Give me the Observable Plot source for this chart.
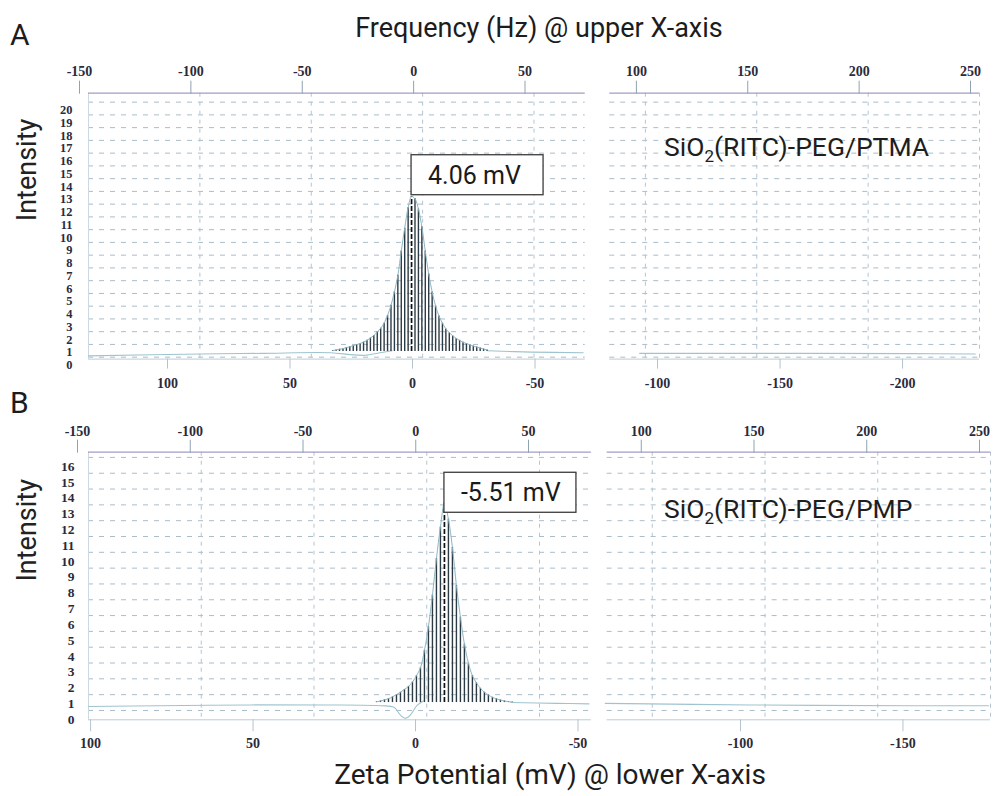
<!DOCTYPE html>
<html>
<head>
<meta charset="utf-8">
<script src="https://cdn.jsdelivr.net/npm/d3@7"></script>
<script src="https://cdn.jsdelivr.net/npm/@observablehq/plot@0.6"></script>
<style>
  body { margin: 0; background: #fff; }
  #page { position: relative; width: 993px; height: 796px; overflow: hidden; font-family: Roboto, "Noto Sans", sans-serif; color: #1c1c1c; }
  .txt { position: absolute; white-space: nowrap; line-height: 1; }
  .title { text-align: center; width: 600px; }
  .letter { font-size: 30px; }
  .panel { position: absolute; left: 0; }
  #page svg g[aria-label="x-axis tick label"] text { font-size: 14px !important; font-weight: bold; font-family: 'Liberation Serif', 'Times New Roman', serif; }
  #page svg g[aria-label="y-axis tick label"] text { font-weight: bold; font-family: 'Liberation Serif', 'Times New Roman', serif; }
  #panelA svg g[aria-label="y-axis tick label"] text { font-size: 12.4px !important; }
  #panelB svg g[aria-label="y-axis tick label"] text { font-size: 13.5px !important; }
</style>
</head>
<body>
<div id="page">
  <div class="txt title" style="left:239px; top:15px; font-size:27px;">Frequency (Hz) @ upper X-axis</div>
  <div class="txt letter" style="left:10px; top:20px;">A</div>
  <div class="txt letter" style="left:10px; top:388px;">B</div>
  <div class="panel" id="panelA" style="top:48px;"></div>
  <div class="panel" id="panelB" style="top:410px;"></div>
  <div class="txt title" style="left:250px; top:761px; font-size:28px;">Zeta Potential (mV) @ lower X-axis</div>
</div>
<script>
// ---------- tick labels ----------
const freqTicks = [-150, -100, -50, 0, 50, 100, 150, 200, 250];          // Hz, upper axis
const zetaTicksA = [100, 50, 0, -50, -100, -150, -200];                  // mV, lower axis A
const zetaTicksB = [100, 50, 0, -50, -100, -150];                        // mV, lower axis B
const intensityTicksA = [0,1,2,3,4,5,6,7,8,9,10,11,12,13,14,15,16,17,18,19,20];
const intensityTicksB = [0,1,2,3,4,5,6,7,8,9,10,11,12,13,14,15,16];

// ---------- panel A: SiO2(RITC)-PEG/PTMA ----------
const zetaA = [36.26, 34.86, 33.46, 32.06, 30.66, 29.26, 27.86, 26.46, 25.06, 23.66, 22.26, 20.86, 19.46,
  18.06, 16.66, 15.26, 13.86, 12.46, 11.06, 9.66, 8.26, 6.86, 5.46, 4.06, 2.66, 1.26, -0.14, -1.54, -2.94,
  -4.34, -5.74, -7.14, -8.54, -9.94, -11.34, -12.74, -14.14, -15.54, -16.94, -18.34, -19.74, -21.14,
  -22.54, -23.94, -25.34, -26.74];
const intensityA = [0.52, 0.57, 0.62, 0.67, 0.75, 0.82, 0.9, 0.99, 1.07, 1.18, 1.32, 1.5, 1.7,
  1.97, 2.27, 2.67, 3.27, 4.07, 5.12, 6.42, 8.32, 10.12, 11.72, 12.6, 12.42, 11.62, 10.22, 8.32, 6.52,
  5.12, 4.02, 3.22, 2.67, 2.22, 1.92, 1.67, 1.47, 1.32, 1.17, 1.07, 0.97, 0.87,
  0.79, 0.72, 0.64, 0.57];
const baseA = 0.45;
const traceA1Zeta = [135.9, 90, 65, 37, 29, 23, 17, 12];
const traceA1Int  = [0.1, 0.25, 0.3, 0.35, 0.2, 0.15, 0.35, 0.5];
const traceA2Zeta = [-27, -45, -66];
const traceA2Int  = [0.5, 0.4, 0.35];
const traceA3Zeta = [-89, -150, -200, -226];
const traceA3Int  = [0.3, 0.3, 0.28, 0.25];
const sampleA = ["SiO", "2", "(RITC)-PEG/PTMA"];
const peakA = {zeta: 4.06, intensity: 12.7, label: "4.06 mV"};
const calibA = {hzAtZero: -0.5, hzPerMv: -1.1};     // lower axis read against upper axis
const segmentsA = [[-150, 73], [84, 250]];            // the two printout halves (Hz)

// ---------- panel B: SiO2(RITC)-PEG/PMP ----------
const zetaB = [15.40, 14.17, 12.94, 11.71, 10.48, 9.25, 8.02, 6.79, 5.56, 4.33, 3.10, 1.87, 0.64,
  -0.59, -1.82, -3.05, -4.28, -5.51, -6.74, -7.97, -9.20, -10.43, -11.66, -12.89, -14.12, -15.35,
  -16.58, -17.81, -19.04, -20.27, -21.50, -22.73, -23.96, -25.19, -26.42];
const intensityB = [0.55, 0.6, 0.67, 0.74, 0.86, 1.0, 1.15, 1.33, 1.52, 1.8, 2.2, 2.7, 3.8,
  5.3, 7.3, 9.6, 11.6, 13.1, 12.1, 10.3, 7.9, 5.9, 4.2, 3.0, 2.2, 1.75,
  1.4, 1.15, 0.98, 0.83, 0.74, 0.66, 0.6, 0.56, 0.53];
const baseB = 0.5;
const traceB1Zeta = [104, 82, 54, 30, 14, 10, 8, 6.5, 5, 3, 1];
const traceB1Int  = [0.25, 0.3, 0.35, 0.35, 0.3, 0.2, -0.3, -0.5, -0.3, 0.3, 0.6];
const traceB2Zeta = [-26, -40, -50];
const traceB2Int  = [0.5, 0.45, 0.42];
const traceB3Zeta = [-55, -100, -150, -173];
const traceB3Int  = [0.45, 0.35, 0.3, 0.3];
const sampleB = ["SiO", "2", "(RITC)-PEG/PMP"];
const peakB = {zeta: -5.51, intensity: 12.5, label: "-5.51 mV"};
const calibB = {hzAtZero: -0.1, hzPerMv: -1.441};
const segmentsB = [[-150, 73], [80, 250]];

const SERIF = "'Liberation Serif', 'Times New Roman', serif";

function drawPanel(p) {
  const toHz = z => p.calib.hzAtZero + p.calib.hzPerMv * z;
  const toZeta = h => (h - p.calib.hzAtZero) / p.calib.hzPerMv;
  const bars = p.zeta.map((z, i) => ({hz: toHz(z), v: p.intensity[i], peak: z === p.peak.zeta}));
  const gridRows = p.intensityTicks.flatMap(v => p.segments.map(([a, b]) => ({v, a, b})));
  const segs = p.segments.map(([a, b]) => ({a, b}));
  const [yMin, yMax] = p.yDomain;
  const traces = p.traces.map(([zs, vs]) => zs.map((z, i) => ({hz: toHz(z), v: vs[i]})));

  const sampleMark = (index, scales, values, dims) => {
    const t = d3.create("svg:text")
      .attr("x", dims.marginLeft + 576)
      .attr("y", dims.marginTop + p.sampleDy)
      .attr("text-anchor", "start")
      .attr("font-family", "Roboto, sans-serif")
      .attr("font-size", 26.5)
      .attr("fill", "#1e1e1e");
    t.append("tspan").text(p.sample[0]);
    t.append("tspan").attr("font-size", 17).attr("dy", 6).text(p.sample[1]);
    t.append("tspan").attr("dy", -6).text(p.sample[2]);
    return t.node();
  };

  const calloutMark = (index, scales) => {
    const g = d3.create("svg:g");
    const x0 = scales.x(toHz(p.peak.zeta));
    const y0 = scales.y(p.peak.intensity);
    g.append("rect").attr("x", x0).attr("y", y0 - 40).attr("width", 132).attr("height", 40)
      .attr("fill", "#fff").attr("stroke", "#3c3c3c").attr("stroke-width", 1.3);
    g.append("text").attr("x", x0 + 17).attr("y", y0 - 11).attr("text-anchor", "start")
      .attr("font-family", "Roboto, sans-serif").attr("font-size", 25).attr("fill", "#1a1a1a")
      .text(p.peak.label);
    return g.node();
  };

  return Plot.plot({
    width: 993,
    height: p.height,
    marginLeft: 88,
    marginRight: p.marginRight,
    marginTop: p.marginTop,
    marginBottom: p.marginBottom,
    x: {domain: [-150, 250], axis: null},
    y: {domain: p.yDomain, axis: null},
    style: {fontFamily: SERIF, fontSize: "13px", color: "#2b2a3a", background: "transparent", overflow: "visible"},
    marks: [
      Plot.ruleY(gridRows, {y: "v", x1: "a", x2: "b", stroke: "#a9bdcb", strokeDasharray: "5,6", strokeWidth: 1}),
      Plot.ruleX(freqTicks.slice(1), {stroke: "#b3c5d1", strokeDasharray: "4,5", strokeWidth: 1}),
      Plot.ruleX(freqTicks.slice(0, 1), {stroke: "#cdd9e0", strokeWidth: 1}),
      Plot.ruleY(segs, {y: yMax, x1: "a", x2: "b", stroke: "#a49cc6", strokeWidth: 1.2}),
      Plot.ruleY(segs, {y: yMin, x1: "a", x2: "b", stroke: "#bccbd4", strokeWidth: 1}),
      ...traces.map(tr => Plot.line(tr, {x: "hz", y: "v", stroke: "#9ec4cf", strokeWidth: 1.1, curve: "catmull-rom"})),
      Plot.ruleX(bars.filter(d => !d.peak), {x: "hz", y1: p.base, y2: "v", stroke: "#2c3a44", strokeWidth: 1.4}),
      Plot.ruleX(bars.filter(d => d.peak), {x: "hz", y1: p.base, y2: "v", stroke: "#111", strokeWidth: 1.7, strokeDasharray: "5,2"}),
      Plot.line(bars, {x: "hz", y: "v", stroke: "#8db6c2", strokeWidth: 1, curve: "catmull-rom"}),
      Plot.axisX(freqTicks, {anchor: "top", tickSize: 13, tickPadding: p.topPad, tickFormat: d => String(d),
        dx: p.labelDx, fontFamily: SERIF, fontWeight: "bold", fontSize: 14, fill: "#2b2a3a", stroke: "#8ea3b2", label: null}),
      Plot.axisX(p.zetaTicks.map(toHz), {anchor: "bottom", tickSize: p.bottomTick, tickPadding: p.bottomPad,
        tickFormat: h => String(Math.round(toZeta(h))), dx: p.labelDx, fontFamily: SERIF, fontWeight: "bold",
        fontSize: 14, fill: "#2b2a3a", stroke: "#b3c4ce", label: null}),
      Plot.axisY(p.intensityTicks, {anchor: "left", tickSize: 0, tickPadding: p.yPad, dy: p.yDy,
        fontFamily: SERIF, fontWeight: "bold", fontSize: p.yFont, fill: "#2b2a3a", label: null}),
      Plot.text(["Intensity"], {text: d => d, frameAnchor: "left", rotate: -90, dx: -61, dy: p.intensityDy,
        fontFamily: "Roboto, sans-serif", fontSize: 27, fill: "#222"}),
      sampleMark,
      calloutMark
    ]
  });
}

const plotA = drawPanel({
  height: 345, marginTop: 44.7, marginBottom: 34.4, marginRight: 14,
  yDomain: [-0.15, 20.7], intensityTicks: intensityTicksA, zetaTicks: zetaTicksA,
  zeta: zetaA, intensity: intensityA, base: baseA, peak: peakA, calib: calibA, segments: segmentsA,
  traces: [[traceA1Zeta, traceA1Int], [traceA2Zeta, traceA2Int], [traceA3Zeta, traceA3Int]],
  sample: sampleA, sampleDy: 63, yFont: 12.4,
  topPad: 4.2, bottomTick: 10, bottomPad: 8.5, labelDx: -9, yPad: 16, yDy: 8, intensityDy: -5
});
const plotB = drawPanel({
  height: 350, marginTop: 41.7, marginBottom: 40.7, marginRight: 3,
  yDomain: [-0.59, 16.33], intensityTicks: intensityTicksB, zetaTicks: zetaTicksB,
  zeta: zetaB, intensity: intensityB, base: baseB, peak: peakB, calib: calibB, segments: segmentsB,
  traces: [[traceB1Zeta, traceB1Int], [traceB2Zeta, traceB2Int], [traceB3Zeta, traceB3Int]],
  sample: sampleB, sampleDy: 66, yFont: 13.5,
  topPad: 3.2, bottomTick: 12, bottomPad: 6.2, labelDx: -11, yPad: 14, yDy: 9, intensityDy: -4.5
});
document.getElementById("panelA").appendChild(plotA);
document.getElementById("panelB").appendChild(plotB);
</script>
</body>
</html>
